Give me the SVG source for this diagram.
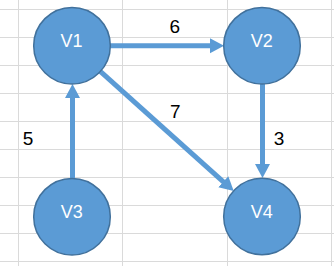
<svg xmlns="http://www.w3.org/2000/svg" width="334" height="266" viewBox="0 0 334 266">
<style>
.grid line{stroke:#DADADA;stroke-width:1}
.node circle{fill:#5B9BD5;stroke:#41719C;stroke-width:1.5}
.node text{fill:#FFFFFF;font-family:"Liberation Sans",Arial,sans-serif;font-size:18px;text-anchor:middle}
.edges line{stroke:#5B9BD5;stroke-width:5;marker-end:url(#ah)}
.lbl{fill:#000000;font-family:"Liberation Sans",Arial,sans-serif;font-size:19px;text-anchor:middle}
</style>
<defs>
<marker id="ah" markerUnits="userSpaceOnUse" markerWidth="16" markerHeight="16" refX="2" refY="7.5" orient="auto">
<path d="M0,0 L14,7.5 L0,15 z" fill="#5B9BD5"/>
</marker>
</defs>
<rect width="334" height="266" fill="#FFFFFF"/>
<g class="grid">
<line x1="18.5" y1="0" x2="18.5" y2="266"/>
<line x1="122.5" y1="0" x2="122.5" y2="266"/>
<line x1="227.5" y1="0" x2="227.5" y2="266"/>
<line x1="331.5" y1="0" x2="331.5" y2="266"/>
<line x1="0" y1="9.5" x2="334" y2="9.5"/>
<line x1="0" y1="37.5" x2="334" y2="37.5"/>
<line x1="0" y1="65.5" x2="334" y2="65.5"/>
<line x1="0" y1="93.5" x2="334" y2="93.5"/>
<line x1="0" y1="121.5" x2="334" y2="121.5"/>
<line x1="0" y1="149.5" x2="334" y2="149.5"/>
<line x1="0" y1="177.5" x2="334" y2="177.5"/>
<line x1="0" y1="205.5" x2="334" y2="205.5"/>
<line x1="0" y1="233.5" x2="334" y2="233.5"/>
<line x1="0" y1="261.5" x2="334" y2="261.5"/>
</g>
<g class="edges" id="edges">
<line x1="110" y1="45.7" x2="212" y2="45.7"/>
<line x1="72.5" y1="178" x2="72.5" y2="96"/>
<line x1="262.5" y1="84" x2="262.5" y2="166"/>
<line x1="100.3" y1="71.4" x2="224.8" y2="183.1"/>
</g>
<g id="V1" class="node"><circle cx="72" cy="45.7" r="38.3"/><text x="71.5" y="47">V1</text></g>
<g id="V2" class="node"><circle cx="262" cy="45.7" r="38.3"/><text x="261.7" y="47">V2</text></g>
<g id="V3" class="node"><circle cx="72" cy="216.7" r="38.3"/><text x="71.7" y="217.5">V3</text></g>
<g id="V4" class="node"><circle cx="262" cy="216.5" r="38.3"/><text x="261.7" y="217.5">V4</text></g>
<g id="labels">
<text class="lbl" x="174.7" y="33.3">6</text>
<text class="lbl" x="175.3" y="118">7</text>
<text class="lbl" x="28" y="144.5">5</text>
<text class="lbl" x="279" y="145">3</text>
</g>
</svg>
